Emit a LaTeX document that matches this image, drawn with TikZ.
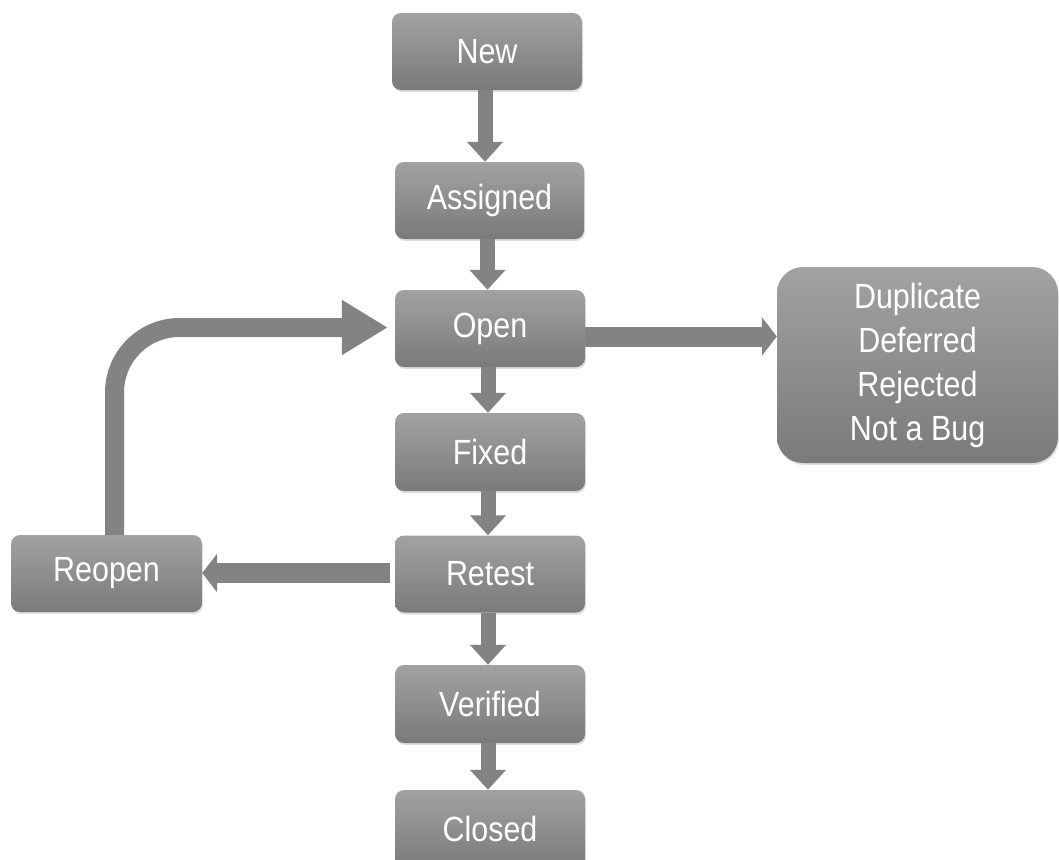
\documentclass[tikz,border=0pt]{standalone}
\usepackage{fontspec}
\setmainfont{Liberation Sans}[FakeStretch=0.87]
\usetikzlibrary{arrows.meta,calc,shadows}
\definecolor{boxtop}{HTML}{A2A2A2}
\definecolor{boxbot}{HTML}{7A7A7A}
\definecolor{arr}{HTML}{838383}
\tikzset{
  state/.style={rectangle, rounded corners=9pt, top color=boxtop, bottom color=boxbot,
    draw=none, text=white, align=center, inner sep=0pt,
    font=\fontsize{35}{44}\selectfont,
    drop shadow={opacity=0.25, shadow xshift=1pt, shadow yshift=-2pt}},
  flow/.style={draw=arr, line width=15pt, -{Triangle[length=20pt,width=35pt]}},
  wideflow/.style={draw=arr, line width=20pt, -{Triangle[length=15pt,width=38pt]}}
}
\begin{document}
\begin{tikzpicture}[x=1pt,y=-1pt]
\useasboundingbox (0,0) rectangle (1059,859);
\clip (0,0) rectangle (1059,859);
\node[state, minimum width=190pt, minimum height=77pt] (new) at (487,51.5) {New};
\node[state, minimum width=189pt, minimum height=77pt] (assigned) at (489.5,200.5) {Assigned};
\node[state, minimum width=190pt, minimum height=77pt] (open) at (490,328.5) {Open};
\node[state, minimum width=190pt, minimum height=78pt] (fixed) at (490,452) {Fixed};
\node[state, minimum width=190pt, minimum height=77pt] (retest) at (490,574) {Retest};
\node[state, minimum width=190pt, minimum height=78pt] (verified) at (490,704) {Verified};
\node[state, minimum width=190pt, minimum height=78pt] (closed) at (490,829) {Closed};
\node[state, minimum width=191pt, minimum height=77pt] (reopen) at (106.5,573.5) {Reopen};
\node[state, rounded corners=26pt, minimum width=281pt, minimum height=196pt] (dup) at (917.5,365)
  {Duplicate\\Deferred\\Rejected\\Not a Bug};
\draw[flow] ($(new.south)+(-2,0)$) -- ($(new.south |- assigned.north)+(-2,0)$);
\draw[flow] ($(assigned.south)+(-2,0)$) -- ($(assigned.south |- open.north)+(-2,0)$);
\draw[flow] ($(open.south)+(-2,0)$) -- ($(open.south |- fixed.north)+(-2,0)$);
\draw[flow] ($(fixed.south)+(-2,0)$) -- ($(fixed.south |- retest.north)+(-2,0)$);
\draw[flow] ($(retest.south)+(-2,0)$) -- ($(retest.south |- verified.north)+(-2,0)$);
\draw[flow] ($(verified.south)+(-2,0)$) -- ($(verified.south |- closed.north)+(-2,0)$);
\coordinate (oe) at ($(open.east)+(0,8)$);
\draw[wideflow] (oe) -- (oe -| dup.west);
\coordinate (rw) at ($(retest.west)+(-5,-1)$);
\draw[wideflow] (rw) -- (rw -| reopen.east);
\draw[draw=arr, line width=19pt, rounded corners=65pt, -{Triangle[length=46pt,width=52pt]}]
  ($(reopen.north)+(8,0)$) |- ($(open.west)+(-7,-1)$);
\end{tikzpicture}
\end{document}
